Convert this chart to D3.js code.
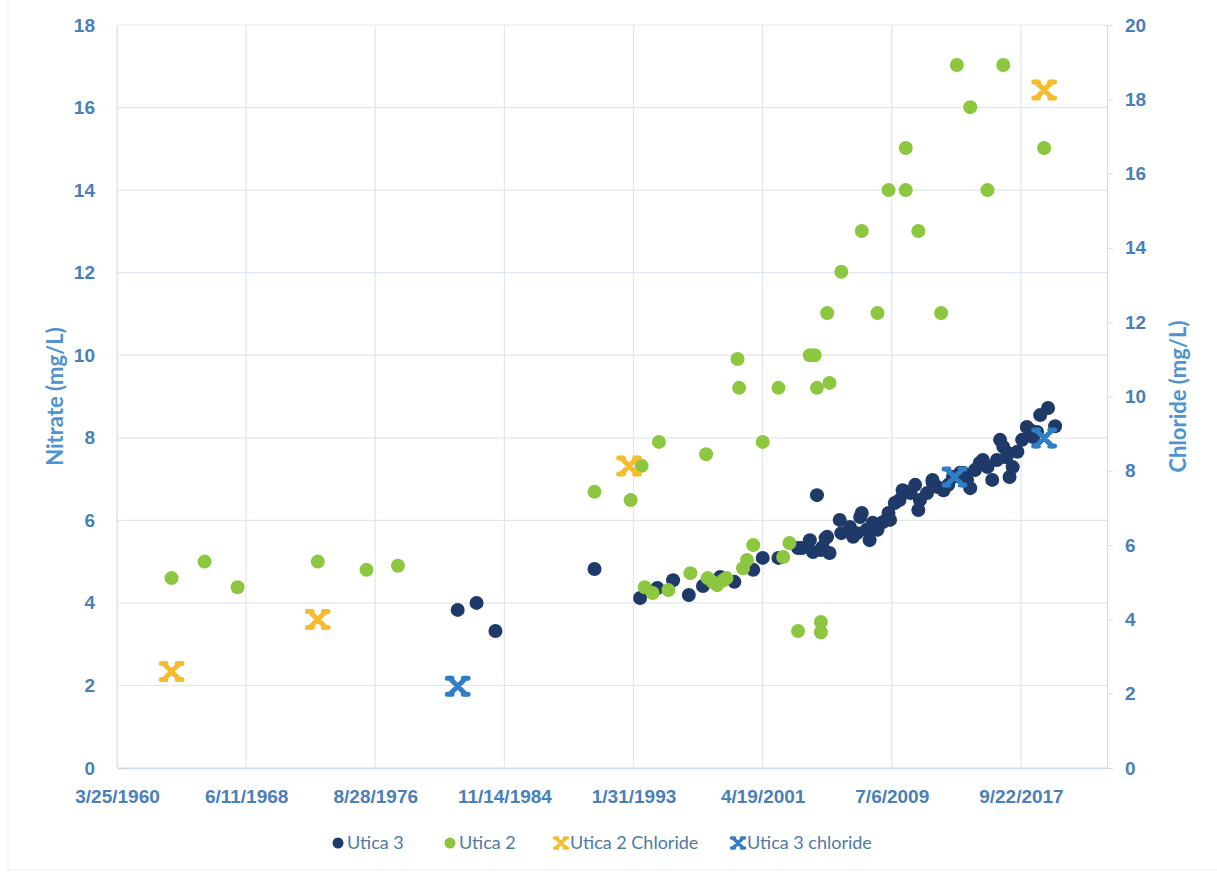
<!DOCTYPE html>
<html>
<head>
<meta charset="utf-8">
<script src="https://cdn.jsdelivr.net/npm/d3@7"></script>
<style>
  body { margin: 0; background: #fff; }
  svg { display: block; }
</style>
</head>
<body>
<div id="chart"></div>
<script>
// x tick labels (Excel date axis, every 3000 days)
const tickLabels = ["3/25/1960", "6/11/1968", "8/28/1976", "11/14/1984",
  "1/31/1993", "4/19/2001", "7/6/2009", "9/22/2017"];
const xMax = "3/15/2023";
const leftTicks = [0, 2, 4, 6, 8, 10, 12, 14, 16, 18];
const rightTicks = [0, 2, 4, 6, 8, 10, 12, 14, 16, 18, 20];

// [decimal year, nitrate mg/L]
const utica3 = [
  [1981.9, 3.83], [1983.1, 4.0], [1984.3, 3.32], [1990.6, 4.82],
  [1993.5, 4.12], [1994.6, 4.36], [1995.6, 4.55], [1996.6, 4.19], [1997.5, 4.41],
  [1998.6, 4.63], [1999.5, 4.51], [2000.7, 4.8], [2001.3, 5.09], [2002.3, 5.09],
  [2003.55, 5.33], [2003.8, 5.33], [2004.3, 5.52], [2004.5, 5.23], [2004.75, 6.61],
  [2005.0, 5.28], [2005.1, 5.35], [2005.3, 5.57], [2005.4, 5.6], [2005.55, 5.21],
  [2006.2, 6.01], [2006.3, 5.69], [2006.85, 5.84], [2007.05, 5.6], [2007.3, 5.69],
  [2007.5, 6.08], [2007.6, 6.18], [2007.9, 5.77], [2008.1, 5.52], [2008.3, 5.94],
  [2008.6, 5.77], [2008.95, 5.96], [2009.3, 6.18], [2009.4, 6.01], [2009.7, 6.42],
  [2010.0, 6.49], [2010.2, 6.73], [2010.4, 6.69], [2010.7, 6.66], [2011.0, 6.86],
  [2011.2, 6.25], [2011.3, 6.49], [2011.75, 6.66], [2012.1, 6.93], [2012.1, 6.98],
  [2012.4, 6.81], [2012.8, 6.73], [2013.1, 6.86], [2013.4, 7.05], [2013.85, 7.15],
  [2014.05, 7.15], [2014.3, 6.98], [2014.5, 6.78], [2014.8, 7.22], [2015.1, 7.39],
  [2015.3, 7.46], [2015.6, 7.29], [2015.9, 6.98], [2016.2, 7.46], [2016.4, 7.95],
  [2016.6, 7.78], [2016.8, 7.53], [2016.9, 7.63], [2017.0, 7.05], [2017.2, 7.29],
  [2017.5, 7.66], [2017.8, 7.95], [2018.1, 8.26], [2018.3, 8.19], [2018.5, 8.02],
  [2018.75, 8.14], [2018.95, 8.55], [2019.45, 8.72], [2019.9, 8.28]
];

const utica2 = [
  [1963.7, 4.6], [1965.8, 5.0], [1967.9, 4.38], [1973.0, 5.0], [1976.1, 4.8], [1978.1, 4.9],
  [1990.6, 6.69], [1992.9, 6.49], [1993.6, 7.32], [1994.7, 7.9], [1997.7, 7.6],
  [1999.7, 9.91], [1999.8, 9.21], [2001.3, 7.9], [2002.3, 9.21], [2004.3, 10.0],
  [2004.6, 10.0], [2004.75, 9.21], [2005.55, 9.33], [2005.4, 11.02], [2006.3, 12.02],
  [2007.6, 13.01], [2008.6, 11.02], [2009.3, 14.0], [2010.4, 14.0], [2010.4, 15.02],
  [2011.2, 13.01], [2012.65, 11.02], [2013.65, 17.03], [2014.5, 16.01], [2015.6, 14.0],
  [2016.6, 17.03], [2019.2, 15.02],
  [1993.8, 4.38], [1994.3, 4.24], [1995.3, 4.31], [1996.7, 4.72], [1997.8, 4.6],
  [1998.1, 4.51], [1998.4, 4.43], [1998.8, 4.55], [1999.0, 4.6], [2000.05, 4.84],
  [2000.3, 5.04], [2000.7, 5.4], [2002.6, 5.11], [2003.0, 5.45],
  [2003.55, 3.32], [2005.0, 3.54], [2005.0, 3.29]
];

// [decimal year, chloride mg/L] on the right axis
const utica2Chloride = [[1963.7, 2.6], [1973.0, 4.0], [1992.8, 8.13], [2019.2, 18.25]];
const utica3Chloride = [[1981.9, 2.2], [2013.5, 7.83], [2019.2, 8.88]];

const colors = {
  utica3: "#1f3a68",
  utica2: "#8dc63f",
  cl2: "#f5bd2b",
  cl3: "#2f7ec6",
  tick: "#4a80b8",
  title: "#4f94cf",
  grid: "#e1e7ee",
  legend: "#5079a6"
};

const width = 1217, height = 876;
const margin = {left: 117, right: 110, top: 25, bottom: 108};

const parseDate = d3.timeParse("%m/%d/%Y");
function yearToDate(y) {
  const yr = Math.floor(y);
  const start = Date.UTC(yr, 0, 1), end = Date.UTC(yr + 1, 0, 1);
  return new Date(start + (y - yr) * (end - start));
}

const svg = d3.select("#chart").append("svg")
  .attr("width", width).attr("height", height)
  .style("font-family", "Lato, 'Open Sans', sans-serif");

// faint scan border
svg.append("rect").attr("x", 8).attr("y", -2).attr("width", width - 4).attr("height", height - 4)
  .attr("fill", "none").attr("stroke", "#eeeeee");

const x = d3.scaleTime()
  .domain([parseDate(tickLabels[0]), parseDate(xMax)])
  .range([margin.left, width - margin.right]);
const yL = d3.scaleLinear().domain([0, 18]).range([height - margin.bottom, margin.top]);
const yR = d3.scaleLinear().domain([0, 20]).range([height - margin.bottom, margin.top]);

// gridlines
svg.append("g").selectAll("line").data(leftTicks).enter().append("line")
  .attr("x1", margin.left).attr("x2", width - margin.right)
  .attr("y1", d => yL(d)).attr("y2", d => yL(d))
  .attr("stroke", colors.grid).attr("stroke-width", 1.2);
svg.append("g").selectAll("line").data(tickLabels).enter().append("line")
  .attr("x1", d => x(parseDate(d))).attr("x2", d => x(parseDate(d)))
  .attr("y1", margin.top).attr("y2", height - margin.bottom)
  .attr("stroke", colors.grid).attr("stroke-width", 1.2);

// x axis
const xAxis = svg.append("g")
  .attr("transform", "translate(0," + (height - margin.bottom) + ")")
  .call(d3.axisBottom(x).tickValues(tickLabels.map(parseDate))
    .tickFormat((d, i) => tickLabels[i]).tickSize(0).tickPadding(22));
xAxis.select(".domain").attr("stroke", "#cfd8e2").attr("stroke-width", 1.5);
xAxis.selectAll("text").attr("fill", colors.tick).attr("font-size", "19px").attr("font-weight", "bold");

// left axis
const leftAxis = svg.append("g")
  .attr("transform", "translate(" + margin.left + ",0)")
  .call(d3.axisLeft(yL).tickValues(leftTicks).tickSize(0).tickPadding(22));
leftAxis.select(".domain").attr("stroke", "#dbe3ec");
leftAxis.selectAll("text").attr("fill", colors.tick).attr("font-size", "19px").attr("font-weight", "bold");

// right axis
const rightAxis = svg.append("g")
  .attr("transform", "translate(" + (width - margin.right) + ",0)")
  .call(d3.axisRight(yR).tickValues(rightTicks).tickSize(6).tickPadding(12));
rightAxis.select(".domain").attr("stroke", "#d5dee8").attr("stroke-width", 1.2);
rightAxis.selectAll("line").attr("stroke", "#d5dee8");
rightAxis.selectAll("text").attr("fill", colors.tick).attr("font-size", "19px").attr("font-weight", "bold");

// axis titles
svg.append("text")
  .attr("transform", "translate(63," + ((margin.top + height - margin.bottom) / 2) + ") rotate(-90)")
  .attr("text-anchor", "middle").attr("fill", colors.title)
  .attr("font-size", "22px").attr("font-weight", "bold")
  .text("Nitrate (mg/L)");
svg.append("text")
  .attr("transform", "translate(1186," + ((margin.top + height - margin.bottom) / 2) + ") rotate(-90)")
  .attr("text-anchor", "middle").attr("fill", colors.title)
  .attr("font-size", "22px").attr("font-weight", "bold")
  .text("Chloride (mg/L)");

// X marker path: diagonal cross with short caps
function xMark(s) {
  const c = s * 0.3;
  return "M" + (-s) + "," + (-s) + "L" + s + "," + s +
    "M" + (-s) + "," + s + "L" + s + "," + (-s) +
    "M" + (-s - c) + "," + (-s) + "L" + (-s + c) + "," + (-s) +
    "M" + (s - c) + "," + (-s) + "L" + (s + c) + "," + (-s) +
    "M" + (-s - c) + "," + s + "L" + (-s + c) + "," + s +
    "M" + (s - c) + "," + s + "L" + (s + c) + "," + s;
}

const plot = svg.append("g");

plot.selectAll(".u3").data(utica3).enter().append("circle")
  .attr("class", "u3")
  .attr("cx", d => x(yearToDate(d[0]))).attr("cy", d => yL(d[1]))
  .attr("r", 7).attr("fill", colors.utica3);

plot.selectAll(".u2").data(utica2).enter().append("circle")
  .attr("class", "u2")
  .attr("cx", d => x(yearToDate(d[0]))).attr("cy", d => yL(d[1]))
  .attr("r", 7).attr("fill", colors.utica2);

plot.selectAll(".c2").data(utica2Chloride).enter().append("path")
  .attr("class", "c2")
  .attr("transform", d => "translate(" + x(yearToDate(d[0])) + "," + yR(d[1]) + ")")
  .attr("d", xMark(8)).attr("stroke", colors.cl2).attr("stroke-width", 5)
  .attr("stroke-linecap", "round").attr("fill", "none");

plot.selectAll(".c3").data(utica3Chloride).enter().append("path")
  .attr("class", "c3")
  .attr("transform", d => "translate(" + x(yearToDate(d[0])) + "," + yR(d[1]) + ")")
  .attr("d", xMark(8)).attr("stroke", colors.cl3).attr("stroke-width", 5)
  .attr("stroke-linecap", "round").attr("fill", "none");

// legend
const legendItems = [
  {name: "Utica 3", color: colors.utica3, type: "circle", x: 338},
  {name: "Utica 2", color: colors.utica2, type: "circle", x: 450},
  {name: "Utica 2 Chloride", color: colors.cl2, type: "x", x: 561},
  {name: "Utica 3 chloride", color: colors.cl3, type: "x", x: 738}
];
const legend = svg.append("g").attr("transform", "translate(0,843)");
legendItems.forEach(item => {
  if (item.type === "circle") {
    legend.append("circle").attr("cx", item.x).attr("cy", 0).attr("r", 5.5).attr("fill", item.color);
  } else {
    legend.append("path").attr("transform", "translate(" + item.x + ",0)")
      .attr("d", xMark(5)).attr("stroke", item.color).attr("stroke-width", 3.5)
      .attr("stroke-linecap", "round").attr("fill", "none");
  }
  legend.append("text").attr("x", item.x + 9).attr("y", 0).attr("dy", "0.35em")
    .attr("fill", colors.legend).attr("font-size", "18px")
    .text(item.name);
});
</script>
</body>
</html>
